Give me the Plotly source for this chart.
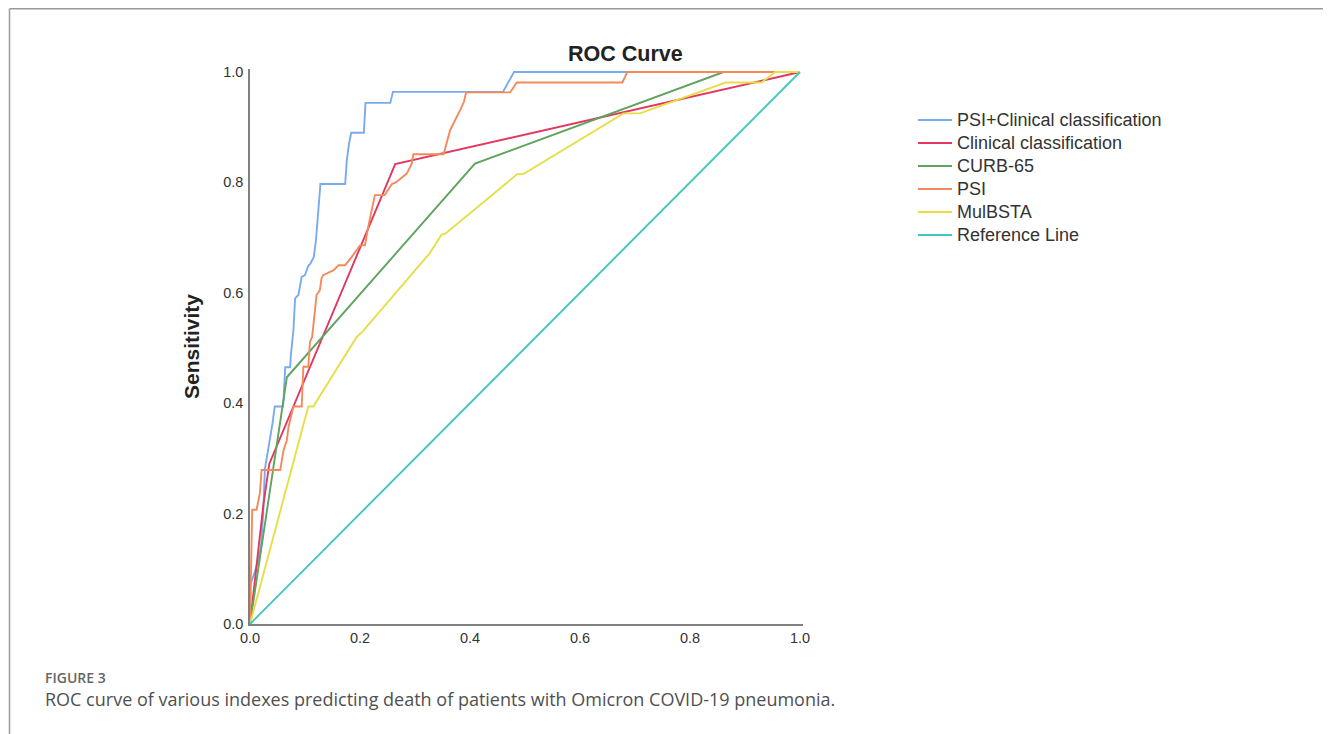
import plotly.graph_objects as go

# ---- data ----
tick_vals = [0.0, 0.2, 0.4, 0.6, 0.8, 1.0]
tick_text = ["0.0", "0.2", "0.4", "0.6", "0.8", "1.0"]

psi_clin_x = [0, 0.001, 0.009, 0.015, 0.020, 0.024, 0.027, 0.030, 0.033, 0.036,
              0.041, 0.045, 0.060, 0.061, 0.064, 0.073, 0.074, 0.079, 0.082, 0.088,
              0.091, 0.094, 0.100, 0.106, 0.110, 0.116, 0.120, 0.124, 0.128, 0.173,
              0.176, 0.180, 0.184, 0.207, 0.210, 0.255, 0.260, 0.460, 0.480, 1.0]
psi_clin_y = [0, 0.072, 0.095, 0.116, 0.14, 0.2, 0.28, 0.297, 0.317, 0.333,
              0.364, 0.394, 0.394, 0.406, 0.465, 0.465, 0.484, 0.533, 0.590, 0.596,
              0.614, 0.629, 0.632, 0.649, 0.653, 0.665, 0.696, 0.756, 0.797, 0.797,
              0.84, 0.87, 0.89, 0.89, 0.944, 0.944, 0.964, 0.964, 1.0, 1.0]

clin_x = [0, 0.012, 0.024, 0.035, 0.264, 1.0]
clin_y = [0, 0.104, 0.213, 0.29, 0.833, 1.0]

curb_x = [0, 0.067, 0.409, 0.861, 1.0]
curb_y = [0, 0.447, 0.834, 1.0, 1.0]

psi_x = [0, 0.002, 0.004, 0.012, 0.015, 0.018, 0.021, 0.055, 0.061, 0.067,
         0.070, 0.079, 0.094, 0.097, 0.106, 0.109, 0.113, 0.118, 0.121, 0.127,
         0.130, 0.133, 0.152, 0.161, 0.173, 0.185, 0.200, 0.209, 0.215, 0.227,
         0.245, 0.258, 0.265, 0.285, 0.294, 0.297, 0.352, 0.358, 0.364, 0.382,
         0.389, 0.393, 0.473, 0.485, 0.677, 0.686, 1.0]
psi_y = [0, 0.1, 0.207, 0.207, 0.225, 0.237, 0.279, 0.279, 0.315, 0.333,
         0.357, 0.394, 0.394, 0.466, 0.466, 0.511, 0.52, 0.563, 0.596, 0.605,
         0.626, 0.632, 0.641, 0.650, 0.650, 0.665, 0.686, 0.686, 0.72, 0.777,
         0.777, 0.797, 0.80, 0.816, 0.834, 0.851, 0.851, 0.873, 0.895, 0.931,
         0.946, 0.963, 0.963, 0.981, 0.981, 1.0, 1.0]

mulbsta_x = [0, 0.106, 0.115, 0.194, 0.205, 0.327, 0.348, 0.355, 0.486, 0.497,
             0.679, 0.709, 0.865, 0.930, 0.955, 1.0]
mulbsta_y = [0, 0.394, 0.394, 0.520, 0.530, 0.672, 0.705, 0.707, 0.815, 0.815,
             0.925, 0.925, 0.981, 0.981, 1.0, 1.0]

ref_x = [0, 1]
ref_y = [0, 1]

series_names = ["PSI+Clinical classification", "Clinical classification", "CURB-65",
                "PSI", "MulBSTA", "Reference Line"]
series_x = [psi_clin_x, clin_x, curb_x, psi_x, mulbsta_x, ref_x]
series_y = [psi_clin_y, clin_y, curb_y, psi_y, mulbsta_y, ref_y]
series_colors = ["#7aabee", "#e2375f", "#5ea35e", "#f48a5c", "#e6de48", "#3fc7c0"]

# ---- geometry (window pixels; page body has an 8px margin) ----
OFF = 8
W, H = 1331 - OFF, 734 - OFF
L, T = 250 - OFF, 69 - OFF
pw, ph = 553, 555
R, B = W - L - pw, H - T - ph


def px(wx):
    return (wx - OFF - L) / pw


def py(wy):
    return (H - B - (wy - OFF)) / ph


FONT = "Liberation Sans, Arial, sans-serif"

fig = go.Figure()
for name, xs, ys, col in zip(series_names, series_x, series_y, series_colors):
    fig.add_trace(go.Scatter(x=xs, y=ys, mode="lines", name=name,
                             line=dict(color=col, width=1.9), showlegend=False))

axis_common = dict(showgrid=False, zeroline=False, showline=True,
                   linecolor="#808080", linewidth=1.5, ticks="",
                   tickvals=tick_vals, ticktext=tick_text,
                   tickfont=dict(family=FONT, size=14.5, color="#333"))

annotations = [
    dict(text="<b>ROC Curve</b>", x=px(625), y=py(54), xref="paper", yref="paper",
         showarrow=False, xanchor="center", yanchor="middle",
         font=dict(family=FONT, size=21.5, color="#222")),
    dict(text="<b>Sensitivity</b>", x=px(191), y=py(347), xref="paper", yref="paper",
         showarrow=False, xanchor="center", yanchor="middle", textangle=-90,
         font=dict(family=FONT, size=21, color="#222")),
    dict(text="FIGURE 3", x=px(43), y=py(677), xref="paper", yref="paper",
         showarrow=False, xanchor="left", yanchor="middle",
         font=dict(family="Open Sans", size=14, color="#666", weight=600)),
    dict(text="ROC curve of various indexes predicting death of patients with Omicron COVID-19 pneumonia.",
         x=px(43), y=py(699), xref="paper", yref="paper",
         showarrow=False, xanchor="left", yanchor="middle",
         font=dict(family="Open Sans", size=18, color="#505050")),
]

shapes = [
    dict(type="line", xref="paper", yref="paper", x0=px(9.5), x1=px(9.5),
         y0=py(8.75), y1=py(734), line=dict(color="#9a9a9a", width=1.5)),
    dict(type="line", xref="paper", yref="paper", x0=px(9.5), x1=px(1331),
         y0=py(8.75), y1=py(8.75), line=dict(color="#9a9a9a", width=1.5)),
]

# manual legend
for i, (name, col) in enumerate(zip(series_names, series_colors)):
    wy = 120 + i * 23
    shapes.append(dict(type="line", xref="paper", yref="paper", x0=px(918), x1=px(952),
                       y0=py(wy), y1=py(wy), line=dict(color=col, width=2)))
    annotations.append(dict(text=name, x=px(955), y=py(wy), xref="paper", yref="paper",
                            showarrow=False, xanchor="left", yanchor="middle",
                            font=dict(family=FONT, size=18, color="#333")))

fig.update_layout(
    width=W, height=H,
    margin=dict(l=L, r=R, t=T, b=B),
    paper_bgcolor="white", plot_bgcolor="white",
    xaxis=dict(range=[0, pw / 550], **axis_common),
    yaxis=dict(range=[0, ph / 552], ticklabelstandoff=2, **axis_common),
    showlegend=False,
    annotations=annotations,
    shapes=shapes,
)

fig.write_html("out.html")
